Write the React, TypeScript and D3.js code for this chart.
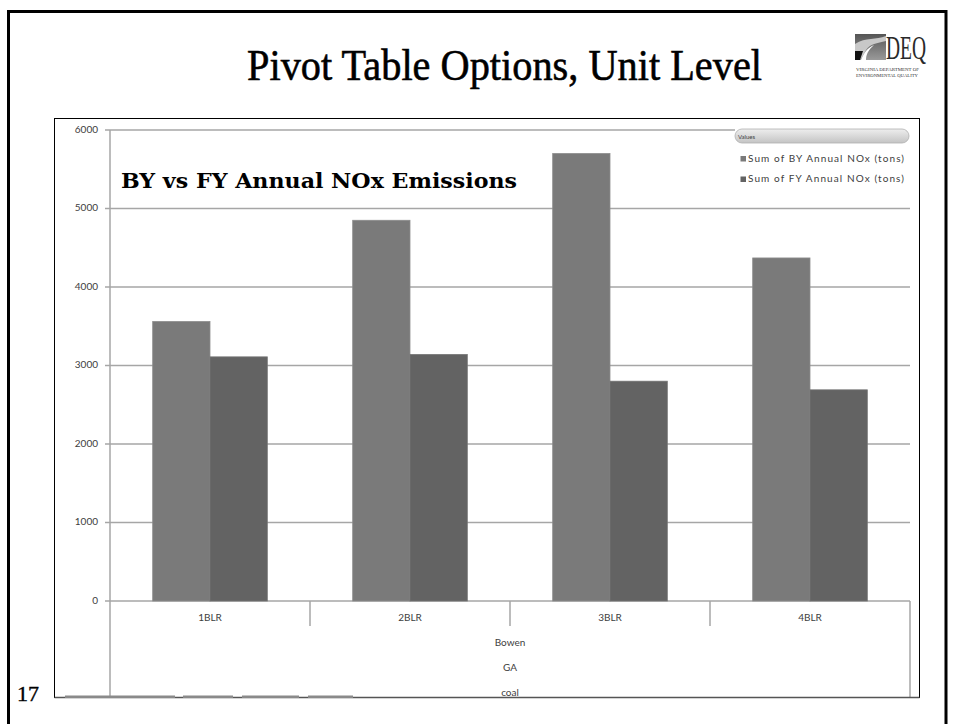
import React from "react";
import * as d3 from "d3";

// chart values
const units = ["1BLR", "2BLR", "3BLR", "4BLR"];
const byValues = [3560, 4850, 5700, 4370];
const fyValues = [3110, 3140, 2800, 2690];
const seriesNames = ["Sum of  BY Annual NOx (tons)", "Sum of  FY Annual NOx (tons)"];
const seriesColors = ["#7a7a7a", "#636363"];
const yTicks = [0, 1000, 2000, 3000, 4000, 5000, 6000];
const outerLabels = ["Bowen", "GA", "coal"];

const width = 954;
const height = 724;

// plot area inside the pivot chart frame
const plot = { left: 110, right: 910, top: 130, bottom: 601 };
const frame = { left: 54.5, top: 118.5, right: 919.5, bottom: 697.5 };

const labelFont = "Lato, 'Open Sans', sans-serif";
const textGray = "#404040";
const gridGray = "#a6a6a6";

export default function App() {
  const x = d3.scaleBand().domain(units).range([plot.left, plot.right]).padding(0);
  const x1 = d3
    .scaleBand()
    .domain(seriesNames)
    .range([0, x.bandwidth()])
    .paddingInner(0)
    .paddingOuter(0.745);
  const y = d3.scaleLinear().domain([0, 6000]).range([plot.bottom, plot.top]);

  const rows = units.map((u, i) => ({ unit: u, values: [byValues[i], fyValues[i]] }));

  // gridlines (top one stops at the legend header)
  const grid = yTicks.map((t) => (
    <g key={t}>
      <line
        x1={plot.left - 5}
        x2={t === 6000 ? 735 : plot.right}
        y1={y(t)}
        y2={y(t)}
        stroke={gridGray}
        strokeWidth={1.5}
      />
      <text
        x={98}
        y={y(t)}
        textAnchor="end"
        dominantBaseline="middle"
        fontSize={10}
        fontFamily={labelFont}
        fill={textGray}
      >
        {t}
      </text>
    </g>
  ));

  const bars = rows.map((r) =>
    r.values.map((v, j) => (
      <rect
        key={r.unit + j}
        x={(x(r.unit) || 0) + (x1(seriesNames[j]) || 0)}
        y={y(v)}
        width={x1.bandwidth()}
        height={y(0) - y(v)}
        fill={seriesColors[j]}
        stroke={j === 0 ? "#8c8c8c" : "#747474"}
        strokeWidth={0.8}
      />
    ))
  );

  // category labels + divider ticks
  const catLabels = units.map((u) => (
    <text
      key={u}
      x={(x(u) || 0) + x.bandwidth() / 2}
      y={618}
      textAnchor="middle"
      dominantBaseline="middle"
      fontSize={10}
      fontFamily={labelFont}
      fill={textGray}
    >
      {u}
    </text>
  ));
  const dividers = units.slice(1).map((u) => (
    <line
      key={u}
      x1={x(u)}
      x2={x(u)}
      y1={plot.bottom}
      y2={626}
      stroke={gridGray}
      strokeWidth={1.5}
    />
  ));

  const outer = outerLabels.map((l, i) => (
    <text
      key={l}
      x={x("3BLR")}
      y={643 + i * 25}
      textAnchor="middle"
      dominantBaseline="middle"
      fontSize={10}
      fontFamily={labelFont}
      fill={textGray}
    >
      {l}
    </text>
  ));

  const buttons = [
    [65, 175],
    [183, 233],
    [242, 299],
    [308, 353],
  ];

  return (
    <div style={{ position: "absolute", left: 0, top: 0 }}>
      <svg width={width} height={height} style={{ display: "block", background: "#fff" }}>
        <defs>
          <linearGradient id="hdr" x1="0" y1="0" x2="0" y2="1">
            <stop offset="0" stopColor="#eeeeee" />
            <stop offset="1" stopColor="#c4c4c4" />
          </linearGradient>
          <linearGradient id="logo" x1="0" y1="0" x2="0" y2="1">
            <stop offset="0" stopColor="#555" />
            <stop offset="1" stopColor="#9a9a9a" />
          </linearGradient>
          <clipPath id="frameClip">
            <rect x={frame.left} y={frame.top} width={frame.right - frame.left} height={frame.bottom - frame.top} />
          </clipPath>
        </defs>

        {/* slide border */}
        <path d="M8.5,724 V11.5 H946 V724" fill="none" stroke="#000" strokeWidth={3} />

        {/* slide title */}
        <text
          x={247}
          y={80}
          fontSize={44}
          fontFamily="'Liberation Serif', 'Times New Roman', serif"
          textLength={515}
          lengthAdjust="spacingAndGlyphs"
          fill="#000"
          stroke="#000"
          strokeWidth={0.6}
        >
          Pivot Table Options, Unit Level
        </text>

        {/* DEQ logo */}
        <g>
          <rect x={855} y={34} width={31} height={26} fill="url(#logo)" />
          <path d="M855,44 C866,37 876,40 886,36 L886,41 C877,43 870,44 866,50 C864,54 862,57 860,60 L855,60 Z" fill="#c8c8c8" />
          <path d="M856,60 L861,60 C864,53 867,48 874,45 C868,50 866,55 866,60 Z" fill="#fff" />
          <path d="M855,51 L863,51 L860,60 L855,60 Z" fill="#111" />
          <text
            x={886}
            y={59}
            fontSize={33}
            fontFamily="'Liberation Serif', serif"
            textLength={40}
            lengthAdjust="spacingAndGlyphs"
            fill="#2a2a2a"
          >
            DEQ
          </text>
          <text x={856} y={70.5} fontSize={5} fontFamily="'Liberation Serif', serif" textLength={63} lengthAdjust="spacingAndGlyphs" fill="#333">
            VIRGINIA DEPARTMENT OF
          </text>
          <text x={856} y={77} fontSize={5} fontFamily="'Liberation Serif', serif" textLength={62} lengthAdjust="spacingAndGlyphs" fill="#333">
            ENVIRONMENTAL QUALITY
          </text>
        </g>

        {/* chart frame */}
        <rect
          x={frame.left}
          y={frame.top}
          width={frame.right - frame.left}
          height={frame.bottom - frame.top}
          fill="#fff"
          stroke="#000"
          strokeWidth={1}
        />

        <g clipPath="url(#frameClip)">
          {grid}
          {bars}

          {/* axes */}
          <line x1={plot.left} x2={plot.left} y1={plot.top} y2={frame.bottom} stroke={gridGray} strokeWidth={1.5} />
          <line x1={plot.right} x2={plot.right} y1={plot.bottom} y2={frame.bottom} stroke={gridGray} strokeWidth={1.5} />
          {dividers}
          {catLabels}
          {outer}

          {/* legend */}
          <rect x={735} y={129} width={174} height={14} rx={7} fill="url(#hdr)" stroke="#b0b0b0" strokeWidth={0.8} />
          <text x={738} y={137} fontSize={6} fontFamily={labelFont} fill={textGray} dominantBaseline="middle">
            Values
          </text>
          {seriesNames.map((s, i) => (
            <g key={s}>
              <rect x={740.5} y={156 + i * 20.5} width={5.5} height={5.5} fill={seriesColors[i]} />
              <text
                x={748}
                y={159 + i * 20.5}
                fontSize={10}
                fontFamily={labelFont}
                fill={textGray}
                dominantBaseline="middle"
                textLength={156}
                lengthAdjust="spacing"
              >
                {s}
              </text>
            </g>
          ))}

          {/* chart title */}
          <text
            x={121}
            y={188}
            fontSize={20.5}
            fontWeight="bold"
            fontFamily="'DejaVu Serif', serif"
            textLength={396}
            lengthAdjust="spacingAndGlyphs"
            fill="#000"
          >
            BY vs FY Annual NOx Emissions
          </text>
        </g>

        {/* collapsed field buttons along the bottom */}
        <line x1={frame.left} x2={frame.right} y1={frame.bottom} y2={frame.bottom} stroke="#555" strokeWidth={1.5} />
        {buttons.map(([a, b]) => (
          <rect key={a} x={a} y={695.5} width={b - a} height={2.5} fill="#8a8a8a" />
        ))}

        {/* slide number */}
        <text x={17} y={701} fontSize={22} fontFamily="'Liberation Serif', serif" fill="#000" stroke="#000" strokeWidth={0.4}>
          17
        </text>
      </svg>
    </div>
  );
}
